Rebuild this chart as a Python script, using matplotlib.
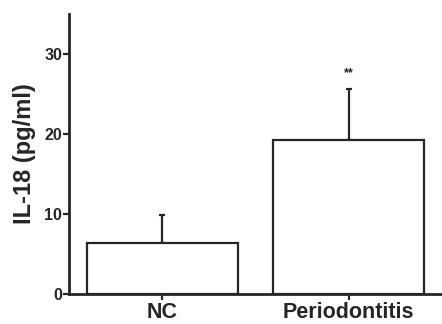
import numpy as np
import matplotlib.pyplot as plt

plt.rcParams['font.family'] = ['Liberation Sans', 'DejaVu Sans']
plt.rcParams['font.weight'] = 'bold'

# --- data ---
groups = ["NC", "Periodontitis"]
means = [6.4, 19.25]
sem = [3.45, 6.35]
signif = ["", "**"]

ink = "#262626"

fig = plt.figure(figsize=(4.42, 3.24), dpi=100)
ax = fig.add_axes([0.156, 0.0926, 0.844, 0.864])

x = np.arange(len(groups))
ax.bar(x, means, width=0.81, color="white", edgecolor=ink, linewidth=1.6, zorder=2)
ax.errorbar(x, means, yerr=[np.zeros(len(sem)), sem], fmt="none",
            ecolor=ink, elinewidth=1.6, capsize=2.5, capthick=1.6, zorder=1)

for xi, m, s, lab in zip(x, means, sem, signif):
    if lab:
        ax.text(xi, m + s + 1.2, lab, ha="center", va="bottom",
                fontsize=9, color=ink)

ax.set_xlim(-0.5, 1.5)
ax.set_ylim(0, 35)
ax.set_yticks([0, 10, 20, 30])
ax.set_xticks(x)
ax.set_xticklabels(groups, fontsize=15.5, fontweight="bold", color=ink)
ax.tick_params(axis="y", labelsize=11.5, width=1.6, length=4, colors=ink, pad=1)
ax.tick_params(axis="x", width=1.6, length=4, colors=ink, pad=2)
ax.set_ylabel("IL-18 (pg/ml)", fontsize=17, fontweight="bold", color=ink, labelpad=6)

for side in ["top", "right"]:
    ax.spines[side].set_visible(False)
for side in ["left", "bottom"]:
    ax.spines[side].set_linewidth(2.0)
    ax.spines[side].set_color(ink)

fig.savefig("out.png", dpi=100)
